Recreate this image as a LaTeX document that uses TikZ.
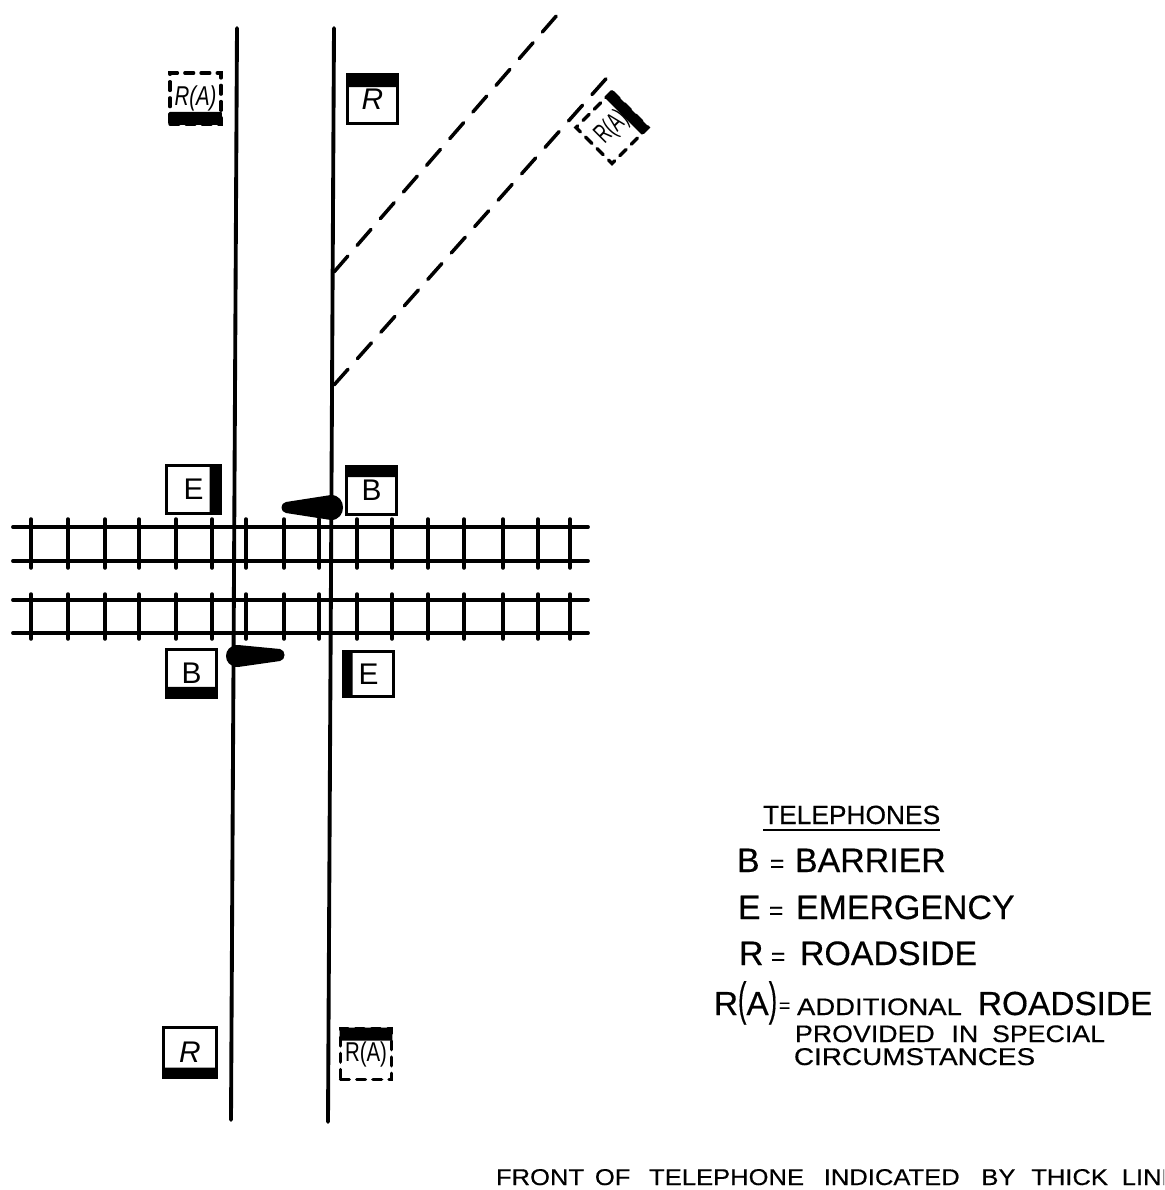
\documentclass[tikz,border=0pt]{standalone}
\usepackage{fontspec}
\setmainfont{Liberation Sans}
\newfontfamily\keyfont{Liberation Sans}[FakeBold=0.4]
\usetikzlibrary{calc}
\newcommand{\keysize}[1]{\keyfont\fontsize{#1}{#1}\selectfont}
\newcommand{\wide}[1]{\scalebox{1.15}[1]{#1}}
\newcommand{\narrow}[1]{\scalebox{0.75}[1]{#1}}
\tikzset{
  road/.style={line width=2.2pt, line cap=round},
  rail/.style={line width=2.2pt, line cap=round},
  sleeper/.style={line width=2pt, line cap=round},
  sideroad/.style={line width=2pt, line cap=round, dash pattern=on 12pt off 8.1pt},
  phonebox/.style={draw, line width=2pt, inner sep=0pt, outer sep=0pt, font=\fontsize{17}{17}\selectfont},
  addbox/.style={draw, line width=1.9pt, inner sep=0pt, outer sep=0pt, line cap=round, dash pattern=on 5pt off 4.2pt, font=\fontsize{15.5}{15.5}\selectfont},
  legend/.style={anchor=base west, inner sep=0pt, outer sep=0pt},
}
\begin{document}
\begin{tikzpicture}[x=0.02cm, y=-0.02cm]
  \useasboundingbox (0,0) rectangle (1164,1190);
  \clip (0,0) rectangle (1164,1190);

  % roads
  \draw[road] (237,28) -- (231,1120);
  \draw[road] (334,28) -- (328,1122);
  \draw[sideroad] (334,272) -- (558,14);
  \draw[sideroad] (334,385) -- (612,72);

  % tracks
  \foreach \y in {527,561,600,633}{
    \draw[rail] (13,\y) -- (588,\y);
  }
  \foreach \x in {31,68,105,139,176,212,246,284,319,357,392,428,464,503,538,570}{
    \draw[sleeper] (\x,519) -- (\x,568);
    \draw[sleeper] (\x,594) -- (\x,639);
  }

  % telephones, thick side is the front
  \foreach \nm/\x/\y/\w/\h/\lab/\aa/\bb/\cc/\dd/\t in {
    rnw/372.5/99/50/49/\itshape R/north west/north east/south west/south east/0.26,
    etl/193.5/489.5/54/48/E/north east/south east/north west/south west/0.2,
    btr/371.5/490.5/50/48/B/north west/north east/south west/south east/0.22,
    bbl/191.5/673.5/50/48/B/south west/south east/north west/north east/0.22,
    ebr/368.5/674/50/45/E/north west/south west/north east/south east/0.18,
    rsw/190/1052.5/53/50/\itshape R/south west/south east/north west/north east/0.2}{
    \node[phonebox, minimum width=\w*0.02cm, minimum height=\h*0.02cm] (\nm) at (\x,\y) {\lab};
    \fill (\nm.\aa) -- (\nm.\bb) -- ($(\nm.\bb)!\t!(\nm.\dd)$) -- ($(\nm.\aa)!\t!(\nm.\cc)$) -- cycle;
  }

  % additional roadside telephones
  \foreach \nm/\x/\y/\r/\lab/\aa/\bb/\cc/\dd/\t in {
    ratl/195.5/98.5/0/\itshape\narrow{R(A)}/south west/south east/north west/north east/0.22,
    rabr/366/1054/0/\narrow{R(A)}/north west/north east/south west/south east/0.22,
    rasd/612/127.5/45/\scalebox{0.62}[1]{R(A)}\hspace{5pt}/north east/south east/north west/south west/0.17}{
    \node[addbox, minimum width=1.02cm, minimum height=1.02cm, rotate=\r] (\nm) at (\x,\y) {\lab};
    \draw[solid, fill, line width=1pt, line join=round] (\nm.\aa) -- (\nm.\bb) -- ($(\nm.\bb)!\t!(\nm.\dd)$) -- ($(\nm.\aa)!\t!(\nm.\cc)$) -- cycle;
  }

  % barriers
  \fill (286,502) -- (331,495) .. controls (347,495) and (347,520) .. (331,520) -- (286,513) .. controls (280,512) and (280,503) .. (286,502) -- cycle;
  \fill (238,645) .. controls (222,645) and (222,667) .. (238,667) -- (280,661) .. controls (286,660) and (286,650) .. (280,649) -- cycle;

  % key
  \node[legend, font=\keysize{15}] (keyhead) at (763,824) {TELEPHONES};
  \draw[line width=1.6pt] (keyhead.base west) ++(0,6) coordinate (ula) -- (ula -| keyhead.base east);
  \foreach \nm/\x/\y/\lab/\eqx/\xx/\txt in {
    kb/737/872/B/770/795/BARRIER,
    ke/738/919/E/769/796/EMERGENCY,
    kr/739/965/R/771/800/ROADSIDE}{
    \node[legend, font=\keysize{19.3}] (\nm) at (\x,\y) {\lab};
    \node[legend, font=\keysize{14}] (\nm eq) at (\eqx,\y) {=};
    \node[legend, font=\keysize{19.3}] (\nm txt) at (\xx,\y) {\txt};
  }
  \node[legend, font=\keysize{19}] (ka) at (714,1015) {R\scalebox{0.75}[1.4]{(}A\scalebox{0.75}[1.4]{)}};
  \node[legend, font=\keysize{11}] (kaeq) at (779,1012) {=};
  \node[legend, font=\keysize{13.6}] (kaa) at (797,1015) {\wide{ADDITIONAL}};
  \node[legend, font=\keysize{19}] (kab) at (978,1015) {ROADSIDE};
  \node[legend, font=\keysize{13.6}] (kac) at (795,1042) {\scalebox{1.12}[1]{PROVIDED\hspace{8.5pt}IN\hspace{7pt}SPECIAL}};
  \node[legend, font=\keysize{13.8}] (kad) at (794,1065) {\wide{CIRCUMSTANCES}};
  \node[legend, font=\keysize{13}] (note) at (496,1185) {\scalebox{1.12}[1]{FRONT\hspace{5.5pt}OF\hspace{9.5pt}TELEPHONE\hspace{10pt}INDICATED\hspace{11pt}BY\hspace{8pt}THICK\hspace{7pt}LINE}};
\end{tikzpicture}
\end{document}
